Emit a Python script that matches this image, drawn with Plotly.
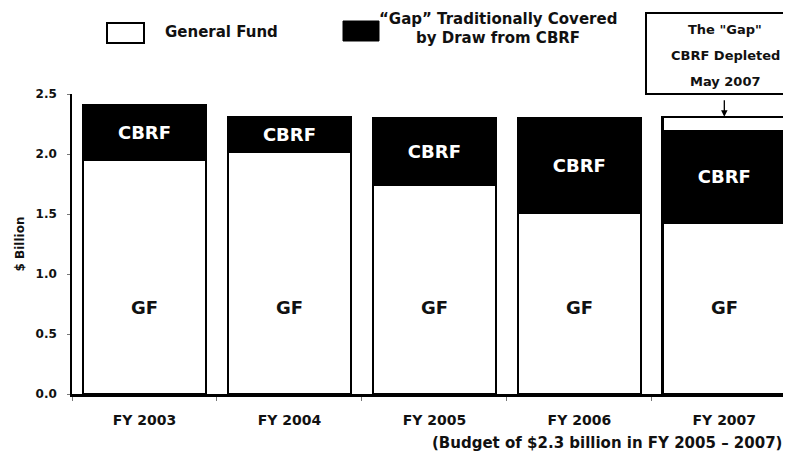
import plotly.graph_objects as go

categories = ["FY 2003", "FY 2004", "FY 2005", "FY 2006", "FY 2007"]
gf_values = [1.95, 2.02, 1.74, 1.51, 1.43]
cbrf_values = [0.46, 0.29, 0.56, 0.79, 0.76]
gap_values = [0, 0, 0, 0, 0.12]
y_ticks = [0.0, 0.5, 1.0, 1.5, 2.0, 2.5]
gf_label_y = 0.72

OFF = 8  # browser body margin
W, H = 791 - OFF, 455 - OFF
# target page pixels: plot left 72, zero line 394, top (2.5) 94
ML, MR, MT, MB = 72 - OFF, 0, 94 - OFF, 455 - 394
PW, PH = W - ML - MR, H - MT - MB

def px(x):
    return (x - OFF - ML) / PW

def py(y):
    return (H - MB - (y - OFF)) / PH

FONT = "DejaVu Sans, Verdana, sans-serif"
TXT = "#111"

fig = go.Figure()
fig.add_bar(x=categories, y=gf_values, name="General Fund",
            marker=dict(color="white", line=dict(color="black", width=2.5)))
fig.add_bar(x=categories, y=cbrf_values, name="CBRF",
            marker=dict(color="black", line=dict(color="black", width=2.5)),
            text=["<b>CBRF</b>"] * len(categories), textposition="inside",
            insidetextanchor="middle", constraintext="none",
            textfont=dict(color="white", size=18, family=FONT))
fig.add_bar(x=categories, y=gap_values, name="Gap",
            marker=dict(color="white", line=dict(color="black", width=2.5)))

annotations = []
for c in categories:
    annotations.append(dict(x=c, y=gf_label_y, xref="x", yref="y", text="<b>GF</b>",
                            showarrow=False, font=dict(size=18, color=TXT, family=FONT)))

shapes = [
    dict(type="rect", xref="paper", yref="paper", x0=px(107), x1=px(144), y0=py(43), y1=py(23),
         line=dict(color="black", width=2), fillcolor="white"),
    dict(type="rect", xref="paper", yref="paper", x0=px(343), x1=px(379), y0=py(41), y1=py(21),
         line=dict(color="black", width=1), fillcolor="black"),
    dict(type="rect", xref="paper", yref="paper", x0=px(646), x1=px(789), y0=py(94), y1=py(13),
         line=dict(color="black", width=2), fillcolor="white"),
]

def txt(x, y, s, size, anchor="center"):
    return dict(x=px(x), y=py(y), xref="paper", yref="paper", xanchor=anchor, yanchor="middle",
                text="<b>%s</b>" % s, showarrow=False, font=dict(size=size, family=FONT, color=TXT))

annotations += [
    txt(163, 32, "General Fund", 15, "left"),
    txt(498, 19, "“Gap” Traditionally Covered", 15),
    txt(498, 38, "by Draw from CBRF", 15),
    txt(725, 29, "The \"Gap\"", 13),
    txt(725, 56, "CBRF Depleted", 13),
    txt(725, 82, "May 2007", 13),
    txt(607, 443, "(Budget of $2.3 billion in FY 2005 – 2007)", 15),
    dict(x=categories[4], y=gf_values[4] + cbrf_values[4] + gap_values[4], xref="x", yref="y",
         ax=0, ay=-18, text="", showarrow=True, arrowhead=2, arrowsize=1, arrowwidth=1.3,
         arrowcolor="black"),
]

fig.update_layout(
    barmode="stack",
    bargap=0.15,
    width=W, height=H,
    margin=dict(l=ML, r=MR, t=MT, b=MB),
    paper_bgcolor="white", plot_bgcolor="white",
    showlegend=False,
    shapes=shapes,
    annotations=annotations,
    font=dict(family=FONT, color=TXT),
    xaxis=dict(range=[-0.5, 4.46], showline=True, linecolor="black", linewidth=2.5,
               ticks="outside", tickson="boundaries", ticklen=4, tickcolor="#777",
               ticklabelstandoff=11,
               tickfont=dict(size=14, family=FONT, color=TXT),
               tickvals=categories, ticktext=["<b>%s</b>" % c for c in categories]),
    yaxis=dict(range=[0, 2.5], showline=True, linecolor="black", linewidth=1.5,
               showgrid=False, zeroline=False, ticks="outside", ticklen=3, tickcolor="#777",
               ticklabelstandoff=8,
               tickvals=y_ticks, ticktext=["<b>%.1f</b>" % v for v in y_ticks],
               tickfont=dict(size=12, family=FONT, color=TXT),
               title=dict(text="<b>$ Billion</b>", font=dict(size=12, family=FONT, color=TXT),
                          standoff=8)),
)

fig.write_html("out.html")
